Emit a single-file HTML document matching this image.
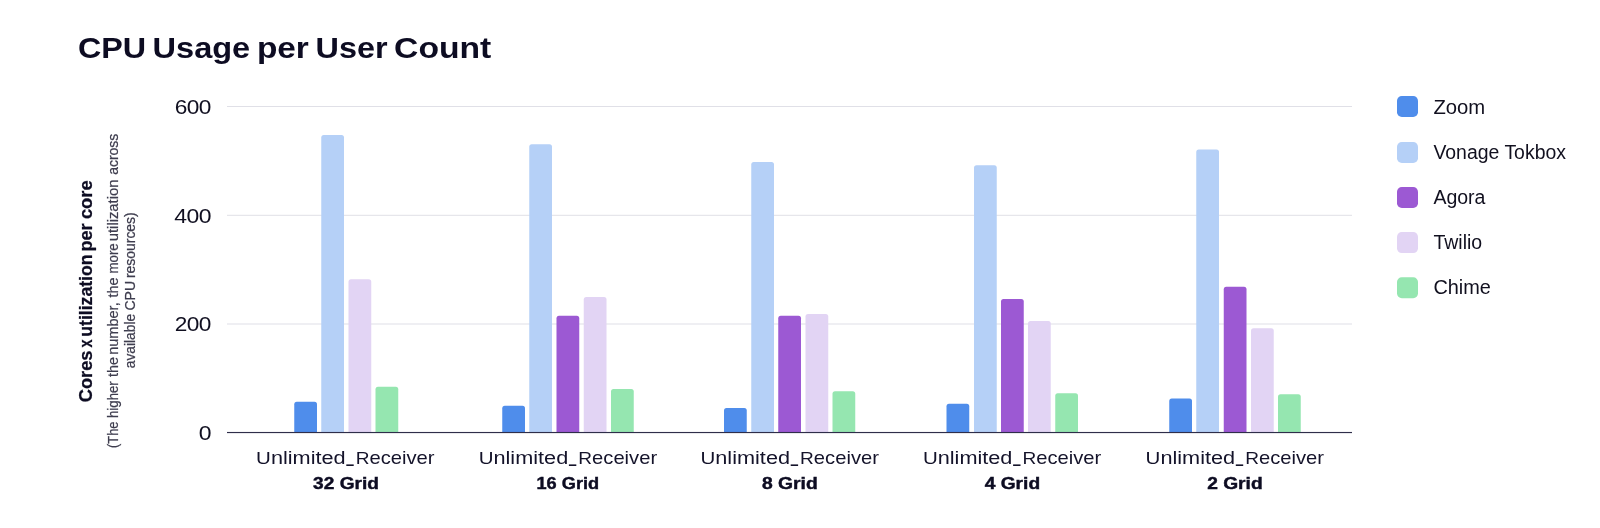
<!DOCTYPE html>
<html><head><meta charset="utf-8"><title>CPU Usage per User Count</title>
<style>
html,body{margin:0;padding:0;background:#fff;}
body{width:1600px;height:528px;overflow:hidden;font-family:"Liberation Sans",sans-serif;}
svg{display:block;will-change:transform;opacity:0.9999;}
text{font-family:"Liberation Sans",sans-serif;}
</style></head><body>
<svg width="1600" height="528" viewBox="0 0 1600 528">
<rect x="0" y="0" width="1600" height="528" fill="#ffffff"/>
<rect x="227" y="106.0" width="1125" height="1" fill="#e0e0e7"/>
<rect x="227" y="214.8" width="1125" height="1" fill="#e0e0e7"/>
<rect x="227" y="323.5" width="1125" height="1" fill="#e0e0e7"/>
<path d="M294.25,432.0 L294.25,404.25 Q294.25,401.75 296.75,401.75 L314.5,401.75 Q317.0,401.75 317.0,404.25 L317.0,432.0 Z" fill="#4f8deb"/>
<path d="M321.25,432.0 L321.25,137.5 Q321.25,135 323.75,135 L341.5,135 Q344.0,135 344.0,137.5 L344.0,432.0 Z" fill="#b5d0f7"/>
<path d="M348.5,432.0 L348.5,281.75 Q348.5,279.25 351.0,279.25 L368.75,279.25 Q371.25,279.25 371.25,281.75 L371.25,432.0 Z" fill="#e2d4f4"/>
<path d="M375.5,432.0 L375.5,389.25 Q375.5,386.75 378.0,386.75 L395.75,386.75 Q398.25,386.75 398.25,389.25 L398.25,432.0 Z" fill="#95e6b0"/>
<path d="M502.25,432.0 L502.25,408.25 Q502.25,405.75 504.75,405.75 L522.5,405.75 Q525.0,405.75 525.0,408.25 L525.0,432.0 Z" fill="#4f8deb"/>
<path d="M529.25,432.0 L529.25,146.75 Q529.25,144.25 531.75,144.25 L549.5,144.25 Q552.0,144.25 552.0,146.75 L552.0,432.0 Z" fill="#b5d0f7"/>
<path d="M556.5,432.0 L556.5,318.25 Q556.5,315.75 559.0,315.75 L576.75,315.75 Q579.25,315.75 579.25,318.25 L579.25,432.0 Z" fill="#9c59d3"/>
<path d="M583.75,432.0 L583.75,299.5 Q583.75,297 586.25,297 L604.0,297 Q606.5,297 606.5,299.5 L606.5,432.0 Z" fill="#e2d4f4"/>
<path d="M611,432.0 L611,391.5 Q611,389 613.5,389 L631.25,389 Q633.75,389 633.75,391.5 L633.75,432.0 Z" fill="#95e6b0"/>
<path d="M724,432.0 L724,410.5 Q724,408 726.5,408 L744.25,408 Q746.75,408 746.75,410.5 L746.75,432.0 Z" fill="#4f8deb"/>
<path d="M751.25,432.0 L751.25,164.5 Q751.25,162 753.75,162 L771.5,162 Q774.0,162 774.0,164.5 L774.0,432.0 Z" fill="#b5d0f7"/>
<path d="M778.25,432.0 L778.25,318.25 Q778.25,315.75 780.75,315.75 L798.5,315.75 Q801.0,315.75 801.0,318.25 L801.0,432.0 Z" fill="#9c59d3"/>
<path d="M805.5,432.0 L805.5,316.5 Q805.5,314 808.0,314 L825.75,314 Q828.25,314 828.25,316.5 L828.25,432.0 Z" fill="#e2d4f4"/>
<path d="M832.5,432.0 L832.5,393.75 Q832.5,391.25 835.0,391.25 L852.75,391.25 Q855.25,391.25 855.25,393.75 L855.25,432.0 Z" fill="#95e6b0"/>
<path d="M946.5,432.0 L946.5,406.25 Q946.5,403.75 949.0,403.75 L966.75,403.75 Q969.25,403.75 969.25,406.25 L969.25,432.0 Z" fill="#4f8deb"/>
<path d="M974,432.0 L974,167.75 Q974,165.25 976.5,165.25 L994.25,165.25 Q996.75,165.25 996.75,167.75 L996.75,432.0 Z" fill="#b5d0f7"/>
<path d="M1001,432.0 L1001,301.5 Q1001,299 1003.5,299 L1021.25,299 Q1023.75,299 1023.75,301.5 L1023.75,432.0 Z" fill="#9c59d3"/>
<path d="M1028,432.0 L1028,323.5 Q1028,321 1030.5,321 L1048.25,321 Q1050.75,321 1050.75,323.5 L1050.75,432.0 Z" fill="#e2d4f4"/>
<path d="M1055.25,432.0 L1055.25,395.75 Q1055.25,393.25 1057.75,393.25 L1075.5,393.25 Q1078.0,393.25 1078.0,395.75 L1078.0,432.0 Z" fill="#95e6b0"/>
<path d="M1169.25,432.0 L1169.25,401.0 Q1169.25,398.5 1171.75,398.5 L1189.5,398.5 Q1192.0,398.5 1192.0,401.0 L1192.0,432.0 Z" fill="#4f8deb"/>
<path d="M1196.25,432.0 L1196.25,152.0 Q1196.25,149.5 1198.75,149.5 L1216.5,149.5 Q1219.0,149.5 1219.0,152.0 L1219.0,432.0 Z" fill="#b5d0f7"/>
<path d="M1223.75,432.0 L1223.75,289.25 Q1223.75,286.75 1226.25,286.75 L1244.0,286.75 Q1246.5,286.75 1246.5,289.25 L1246.5,432.0 Z" fill="#9c59d3"/>
<path d="M1251,432.0 L1251,330.75 Q1251,328.25 1253.5,328.25 L1271.25,328.25 Q1273.75,328.25 1273.75,330.75 L1273.75,432.0 Z" fill="#e2d4f4"/>
<path d="M1278,432.0 L1278,396.75 Q1278,394.25 1280.5,394.25 L1298.25,394.25 Q1300.75,394.25 1300.75,396.75 L1300.75,432.0 Z" fill="#95e6b0"/>
<rect x="227" y="431.95000000000005" width="1125" height="1.15" fill="#2f2e4a"/>
<g transform="translate(78.0,58.3) scale(1.0763,1)"><text x="0" y="0" font-size="30" font-weight="bold" fill="#0d0c22">CPU</text></g>
<g transform="translate(152.6,58.3) scale(1.0843,1)"><text x="0" y="0" font-size="30" font-weight="bold" fill="#0d0c22">Usage</text></g>
<g transform="translate(256.9,58.3) scale(1.1134,1)"><text x="0" y="0" font-size="30" font-weight="bold" fill="#0d0c22">per</text></g>
<g transform="translate(315.6,58.3) scale(1.0792,1)"><text x="0" y="0" font-size="30" font-weight="bold" fill="#0d0c22">User</text></g>
<g transform="translate(394.1,58.3) scale(1.1229,1)"><text x="0" y="0" font-size="30" font-weight="bold" fill="#0d0c22">Count</text></g>
<g transform="translate(210.9,113.95) scale(1.145,1)"><text x="0" y="0" font-size="19.8" text-anchor="end" letter-spacing="-0.5" fill="#100f20">600</text></g>
<g transform="translate(210.9,222.95) scale(1.16,1)"><text x="0" y="0" font-size="19.8" text-anchor="end" letter-spacing="-0.5" fill="#100f20">400</text></g>
<g transform="translate(210.9,331.15) scale(1.145,1)"><text x="0" y="0" font-size="19.8" text-anchor="end" letter-spacing="-0.5" fill="#100f20">200</text></g>
<g transform="translate(210.9,440.35) scale(1.16,1)"><text x="0" y="0" font-size="19.8" text-anchor="end" letter-spacing="-0.5" fill="#100f20">0</text></g>
<g transform="translate(256.1,463.9) scale(1.205,1)"><text x="0" y="0" font-size="18" fill="#14132a"><tspan font-size="17">U</tspan>nlimited</text></g>
<rect x="346.3" y="464.4" width="7.4" height="1.6" fill="#14132a"/>
<g transform="translate(355.7,463.9) scale(1.122,1)"><text x="0" y="0" font-size="18" fill="#14132a"><tspan font-size="17">R</tspan>eceiver</text></g>
<g transform="translate(346.0,488.9) scale(1.125,1)"><text x="0" y="0" font-size="17" font-weight="bold" text-anchor="middle" fill="#0d0c22" stroke="#0d0c22" stroke-width="0.45">32 Grid</text></g>
<g transform="translate(478.69999999999993,463.9) scale(1.205,1)"><text x="0" y="0" font-size="18" fill="#14132a"><tspan font-size="17">U</tspan>nlimited</text></g>
<rect x="568.9" y="464.4" width="7.4" height="1.6" fill="#14132a"/>
<g transform="translate(578.3,463.9) scale(1.122,1)"><text x="0" y="0" font-size="18" fill="#14132a"><tspan font-size="17">R</tspan>eceiver</text></g>
<g transform="translate(567.8,488.9) scale(1.07,1)"><text x="0" y="0" font-size="17" font-weight="bold" text-anchor="middle" fill="#0d0c22" stroke="#0d0c22" stroke-width="0.45">16 Grid</text></g>
<g transform="translate(700.5,463.9) scale(1.205,1)"><text x="0" y="0" font-size="18" fill="#14132a"><tspan font-size="17">U</tspan>nlimited</text></g>
<rect x="790.7" y="464.4" width="7.4" height="1.6" fill="#14132a"/>
<g transform="translate(800.1,463.9) scale(1.122,1)"><text x="0" y="0" font-size="18" fill="#14132a"><tspan font-size="17">R</tspan>eceiver</text></g>
<g transform="translate(789.8,488.9) scale(1.135,1)"><text x="0" y="0" font-size="17" font-weight="bold" text-anchor="middle" fill="#0d0c22" stroke="#0d0c22" stroke-width="0.45">8 Grid</text></g>
<g transform="translate(922.9,463.9) scale(1.205,1)"><text x="0" y="0" font-size="18" fill="#14132a"><tspan font-size="17">U</tspan>nlimited</text></g>
<rect x="1013.1" y="464.4" width="7.4" height="1.6" fill="#14132a"/>
<g transform="translate(1022.5,463.9) scale(1.122,1)"><text x="0" y="0" font-size="18" fill="#14132a"><tspan font-size="17">R</tspan>eceiver</text></g>
<g transform="translate(1012.4,488.9) scale(1.13,1)"><text x="0" y="0" font-size="17" font-weight="bold" text-anchor="middle" fill="#0d0c22" stroke="#0d0c22" stroke-width="0.45">4 Grid</text></g>
<g transform="translate(1145.6000000000001,463.9) scale(1.205,1)"><text x="0" y="0" font-size="18" fill="#14132a"><tspan font-size="17">U</tspan>nlimited</text></g>
<rect x="1235.8" y="464.4" width="7.4" height="1.6" fill="#14132a"/>
<g transform="translate(1245.2,463.9) scale(1.122,1)"><text x="0" y="0" font-size="18" fill="#14132a"><tspan font-size="17">R</tspan>eceiver</text></g>
<g transform="translate(1234.9,488.9) scale(1.13,1)"><text x="0" y="0" font-size="17" font-weight="bold" text-anchor="middle" fill="#0d0c22" stroke="#0d0c22" stroke-width="0.45">2 Grid</text></g>
<g transform="translate(92.0,402.31) rotate(-90) scale(1.0162,1)"><text x="0" y="0" font-size="18" font-weight="bold" fill="#0d0c22" stroke="#0d0c22" stroke-width="0.25">Cores</text></g>
<g transform="translate(92.0,347.55) rotate(-90) scale(0.8,1)"><text x="0" y="0" font-size="18" font-weight="bold" fill="#0d0c22" stroke="#0d0c22" stroke-width="0.25">x</text></g>
<g transform="translate(92.0,336.73) rotate(-90) scale(0.9805,1)"><text x="0" y="0" font-size="18" font-weight="bold" fill="#0d0c22" stroke="#0d0c22" stroke-width="0.25">utilization</text></g>
<g transform="translate(92.0,251.5) rotate(-90) scale(1.0038,1)"><text x="0" y="0" font-size="18" font-weight="bold" fill="#0d0c22" stroke="#0d0c22" stroke-width="0.25">per</text></g>
<g transform="translate(92.0,219.12) rotate(-90) scale(1.0204,1)"><text x="0" y="0" font-size="18" font-weight="bold" fill="#0d0c22" stroke="#0d0c22" stroke-width="0.25">core</text></g>
<g transform="translate(117.5,448.07) rotate(-90) scale(0.9248,1)"><text x="0" y="0" font-size="14" fill="#3e3d4e" stroke="#3e3d4e" stroke-width="0.22">(The</text></g>
<g transform="translate(117.5,418.0) rotate(-90) scale(0.9457,1)"><text x="0" y="0" font-size="14" fill="#3e3d4e" stroke="#3e3d4e" stroke-width="0.22">higher</text></g>
<g transform="translate(117.5,377.01) rotate(-90) scale(1.0324,1)"><text x="0" y="0" font-size="14" fill="#3e3d4e" stroke="#3e3d4e" stroke-width="0.22">the</text></g>
<g transform="translate(117.5,354.85) rotate(-90) scale(1.04,1)"><text x="0" y="0" font-size="14" fill="#3e3d4e" stroke="#3e3d4e" stroke-width="0.22">number,</text></g>
<g transform="translate(117.5,297.51) rotate(-90) scale(1.0324,1)"><text x="0" y="0" font-size="14" fill="#3e3d4e" stroke="#3e3d4e" stroke-width="0.22">the</text></g>
<g transform="translate(117.5,273.5) rotate(-90) scale(0.9488,1)"><text x="0" y="0" font-size="14" fill="#3e3d4e" stroke="#3e3d4e" stroke-width="0.22">more</text></g>
<g transform="translate(117.5,241.21) rotate(-90) scale(1.0566,1)"><text x="0" y="0" font-size="14" fill="#3e3d4e" stroke="#3e3d4e" stroke-width="0.22">utilization</text></g>
<g transform="translate(117.5,174.75) rotate(-90) scale(0.9963,1)"><text x="0" y="0" font-size="14" fill="#3e3d4e" stroke="#3e3d4e" stroke-width="0.22">across</text></g>
<g transform="translate(134.7,368.14) rotate(-90) scale(0.9825,1)"><text x="0" y="0" font-size="14" fill="#3e3d4e" stroke="#3e3d4e" stroke-width="0.22">available</text></g>
<g transform="translate(134.7,310.61) rotate(-90) scale(1.0126,1)"><text x="0" y="0" font-size="14" fill="#3e3d4e" stroke="#3e3d4e" stroke-width="0.22">CPU</text></g>
<g transform="translate(134.7,278.04) rotate(-90) scale(0.9946,1)"><text x="0" y="0" font-size="14" fill="#3e3d4e" stroke="#3e3d4e" stroke-width="0.22">resources)</text></g>
<rect x="1397" y="96" width="21" height="21" rx="4.8" ry="4.8" fill="#4f8deb"/>
<g transform="translate(1433.4,113.7) scale(1.04,1)"><text x="0" y="0" font-size="19.5" fill="#11101f">Zoom</text></g>
<rect x="1397" y="142.0" width="21" height="21" rx="4.8" ry="4.8" fill="#b5d0f7"/>
<g transform="translate(1433.4,158.95) scale(0.997,1)"><text x="0" y="0" font-size="19.5" fill="#11101f">Vonage Tokbox</text></g>
<rect x="1397" y="187" width="21" height="21" rx="4.8" ry="4.8" fill="#9c59d3"/>
<g transform="translate(1433.4,203.8) scale(1.0,1)"><text x="0" y="0" font-size="19.5" fill="#11101f">Agora</text></g>
<rect x="1397" y="232.1" width="21" height="21" rx="4.8" ry="4.8" fill="#e2d4f4"/>
<g transform="translate(1433.4,248.8) scale(1.0,1)"><text x="0" y="0" font-size="19.5" fill="#11101f">Twilio</text></g>
<rect x="1397" y="277.25" width="21" height="21" rx="4.8" ry="4.8" fill="#95e6b0"/>
<g transform="translate(1433.4,294.0) scale(1.022,1)"><text x="0" y="0" font-size="19.5" fill="#11101f">Chime</text></g>
</svg>
</body></html>
